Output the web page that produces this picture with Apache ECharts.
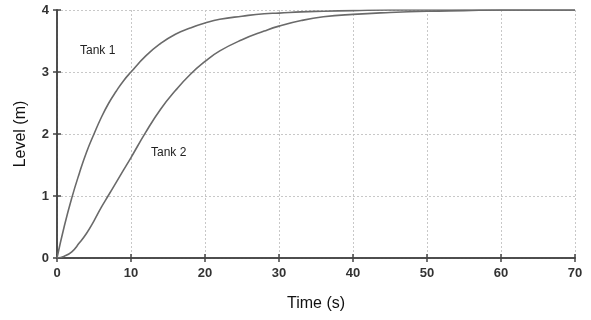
<!DOCTYPE html>
<html>
<head>
<meta charset="utf-8">
<script src="https://cdn.jsdelivr.net/npm/echarts@6/dist/echarts.min.js"></script>
<style>
  html, body { margin: 0; padding: 0; background: #fff; }
  #main { width: 591px; height: 320px; }
</style>
</head>
<body>
<div id="main"></div>
<script>
// time points (s)
var time = [0, 1, 2, 3, 4, 5, 6, 7, 8, 9, 10, 12, 14, 16, 18, 20, 22, 25, 28, 30, 33, 36, 40, 45, 50, 55, 60, 65, 70];
// level (m)
var tank1 = [0, 0.52, 0.97, 1.36, 1.71, 2.0, 2.27, 2.5, 2.69, 2.86, 3.0, 3.26, 3.46, 3.61, 3.71, 3.79, 3.85, 3.9, 3.94, 3.95, 3.97, 3.98, 3.99, 4.0, 4.0, 4.0, 4.0, 4.0, 4.0];
var tank2 = [0, 0.03, 0.1, 0.24, 0.4, 0.6, 0.82, 1.02, 1.22, 1.42, 1.62, 2.03, 2.4, 2.7, 2.96, 3.17, 3.34, 3.52, 3.66, 3.74, 3.83, 3.89, 3.93, 3.96, 3.98, 3.99, 4.0, 4.0, 4.0];
var xTicks = [0, 10, 20, 30, 40, 50, 60, 70];
var yTicks = [0, 1, 2, 3, 4];

function pairs(ys) {
  var out = [];
  for (var i = 0; i < time.length; i++) out.push([time[i], ys[i]]);
  return out;
}

var chart = echarts.init(document.getElementById('main'));
var axisLine = { lineStyle: { color: '#444', width: 1.5 } };
var tickIn = { inside: true, length: 4, lineStyle: { color: '#444', width: 1.5 } };
var gridLine = { show: true, lineStyle: { color: '#c8c8c8', type: [2, 2], width: 1 } };
var tickFont = { color: '#333', fontSize: 13, fontWeight: 'bold', fontFamily: 'Liberation Sans, Arial, sans-serif' };

var option = {
  animation: false,
  grid: { left: 57, right: 16, top: 10, bottom: 62 },
  xAxis: [
    {
      type: 'value', min: xTicks[0], max: xTicks[xTicks.length - 1], interval: 10,
      name: 'Time (s)', nameLocation: 'middle', nameGap: 38,
      nameTextStyle: { color: '#111', fontSize: 16, fontFamily: 'Liberation Sans, Arial, sans-serif' },
      axisLine: axisLine, axisTick: tickIn, splitLine: gridLine,
      axisLabel: Object.assign({ margin: 9 }, tickFont)
    },
    {
      type: 'value', position: 'top', min: xTicks[0], max: xTicks[xTicks.length - 1], interval: 10,
      axisLine: axisLine, axisTick: tickIn, splitLine: { show: false }, axisLabel: { show: false }
    }
  ],
  yAxis: [
    {
      type: 'value', min: yTicks[0], max: yTicks[yTicks.length - 1], interval: 1,
      name: 'Level (m)', nameLocation: 'middle', nameGap: 28,
      nameTextStyle: { color: '#111', fontSize: 16, fontFamily: 'Liberation Sans, Arial, sans-serif' },
      axisLine: axisLine, axisTick: tickIn, splitLine: gridLine,
      axisLabel: Object.assign({ margin: 8 }, tickFont)
    },
    {
      type: 'value', position: 'right', min: yTicks[0], max: yTicks[yTicks.length - 1], interval: 1,
      axisLine: axisLine, axisTick: tickIn, splitLine: { show: false }, axisLabel: { show: false }
    }
  ],
  series: [
    {
      name: 'Tank 1', type: 'line', smooth: true, showSymbol: false,
      data: pairs(tank1),
      lineStyle: { color: '#6a6a6a', width: 1.6 }
    },
    {
      name: 'Tank 2', type: 'line', smooth: true, showSymbol: false,
      data: pairs(tank2),
      lineStyle: { color: '#6a6a6a', width: 1.6 }
    }
  ],
  graphic: [
    { type: 'text', left: 80, top: 45, style: { text: 'Tank 1', fill: '#222', fontSize: 12, fontFamily: 'Liberation Sans, Arial, sans-serif' } },
    { type: 'text', left: 151, top: 147, style: { text: 'Tank 2', fill: '#222', fontSize: 12, fontFamily: 'Liberation Sans, Arial, sans-serif' } }
  ]
};
chart.setOption(option);
</script>
</body>
</html>
